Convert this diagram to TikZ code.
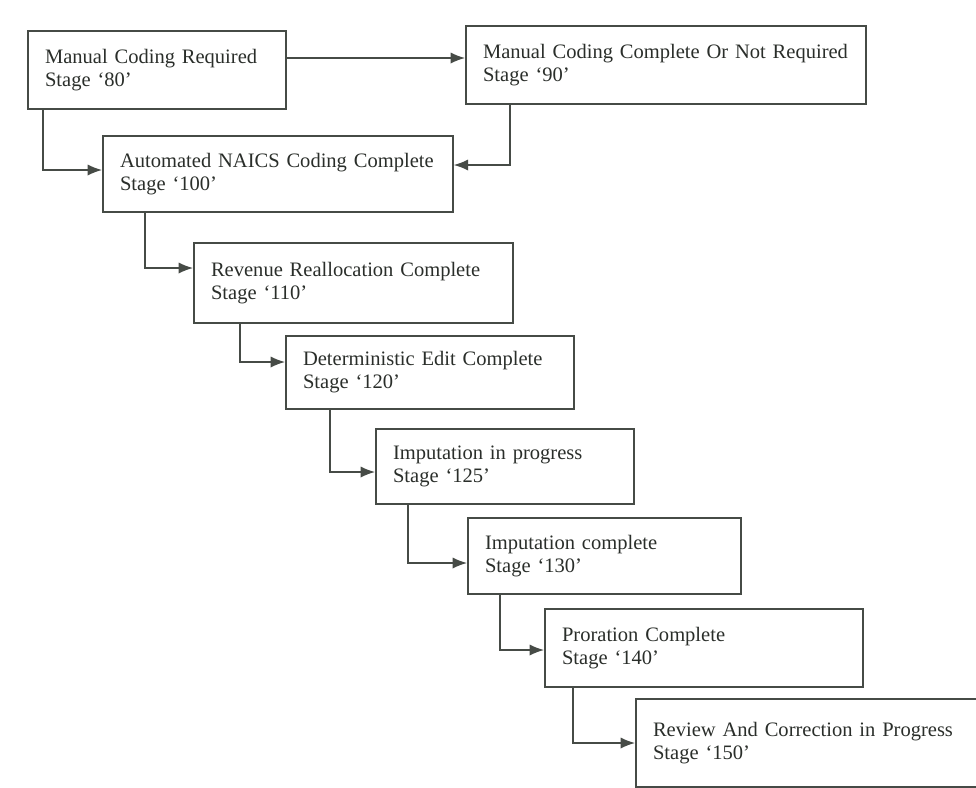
\documentclass[tikz,border=0pt]{standalone}
\usepackage{fontspec}
\setmainfont{Liberation Serif}
\usepackage{tikz}
\usetikzlibrary{arrows.meta}

\definecolor{inkgray}{HTML}{2A2E2A}
\definecolor{linegray}{HTML}{464B46}

\tikzset{
  stagebox/.style={draw=linegray, line width=1.2pt, anchor=north west,
    align=left, inner xsep=0.43cm, inner ysep=0pt, text=inkgray,
    font=\fontsize{14.6}{16.5}\selectfont},
  flow/.style={draw=linegray, line width=0.9pt,
    -{Latex[length=0.36cm,width=0.28cm]}}
}

\begin{document}
\begin{tikzpicture}[x=0.025cm,y=-0.025cm]
  \useasboundingbox (0,0) rectangle (976,788);

  \node [stagebox, text width=5.59cm, minimum height=1.95cm] (s80) at (27,30)
    {Manual Coding Required\\Stage `80'};
  \node [stagebox, text width=9.14cm, minimum height=1.95cm] (s90) at (465,25)
    {Manual Coding Complete Or Not Required\\Stage `90'};
  \node [stagebox, text width=7.89cm, minimum height=1.9cm] (s100) at (102,135)
    {Automated NAICS Coding Complete\\Stage `100'};
  \node [stagebox, text width=7.115cm, minimum height=2cm] (s110) at (193,242)
    {Revenue Reallocation Complete\\Stage `110'};
  \node [stagebox, text width=6.34cm, minimum height=1.825cm] (s120) at (285,335)
    {Deterministic Edit Complete\\Stage `120'};
  \node [stagebox, text width=5.59cm, minimum height=1.875cm] (s125) at (375,428)
    {Imputation in progress\\Stage `125'};
  \node [stagebox, text width=5.965cm, minimum height=1.9cm] (s130) at (467,517)
    {Imputation complete\\Stage `130'};
  \node [stagebox, text width=7.09cm, minimum height=1.95cm] (s140) at (544,608)
    {Proration Complete\\Stage `140'};
  \node [stagebox, text width=9.6cm, minimum height=2.2cm] (s150) at (635,698)
    {Review And Correction in Progress\\Stage `150'};

  % connectors
  \coordinate (r80) at ([yshift=-0.7cm]s80.north east);
  \draw [flow] (r80) -- (r80 -| s90.west);
  \draw [flow] ([xshift=0.4cm]s80.south west) |- ([yshift=-0.875cm]s100.north west);
  \draw [flow] ([xshift=1.125cm]s90.south west) |- ([yshift=-0.75cm]s100.north east);
  \draw [flow] ([xshift=1.075cm]s100.south west) |- ([yshift=-0.65cm]s110.north west);
  \draw [flow] ([xshift=1.175cm]s110.south west) |- ([yshift=-0.675cm]s120.north west);
  \draw [flow] ([xshift=1.125cm]s120.south west) |- ([yshift=-1.1cm]s125.north west);
  \draw [flow] ([xshift=0.825cm]s125.south west) |- ([yshift=-1.15cm]s130.north west);
  \draw [flow] ([xshift=0.825cm]s130.south west) |- ([yshift=-1.05cm]s140.north west);
  \draw [flow] ([xshift=0.725cm]s140.south west) |- ([yshift=-1.125cm]s150.north west);
\end{tikzpicture}
\end{document}
